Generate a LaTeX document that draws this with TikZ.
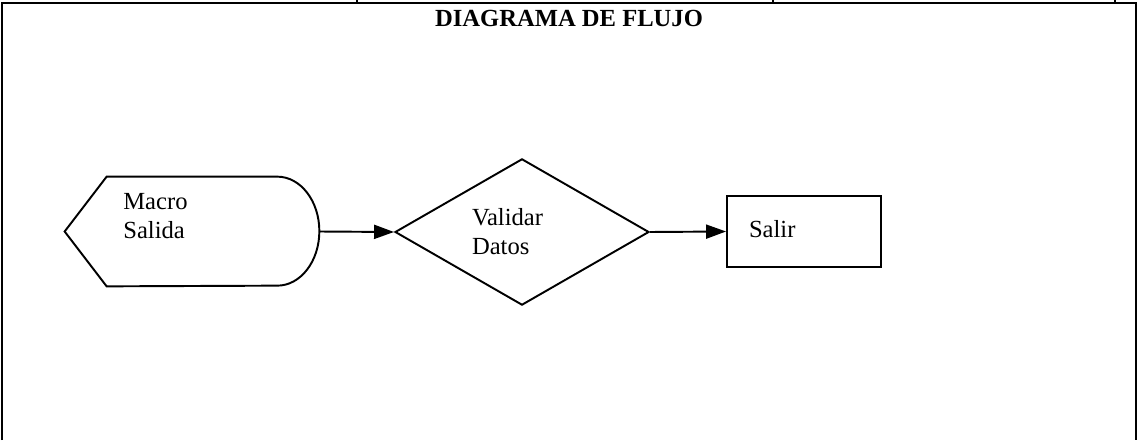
\documentclass[tikz,border=0pt]{standalone}
\usepackage{fontspec}
\setmainfont{Liberation Serif}
\usetikzlibrary{arrows.meta}
\usetikzlibrary{shapes.geometric}

\begin{document}
\begin{tikzpicture}[>={Triangle[length=0.4cm,width=0.28cm]},
	txt/.style={font=\fontsize{14}{16.5}\selectfont, align=left, inner sep=0},
	linea/.style={line width=1.1pt}]
	\useasboundingbox (0,0) rectangle (22.78,8.8);
	% marco
	\draw[line width=0.6pt] (0.04,0) -- (0.04,8.74) -- (22.72,8.74) -- (22.72,0);
	\draw[line width=0.6pt] (7.14,8.74) -- (7.14,8.8);
	\draw[line width=0.6pt] (15.46,8.74) -- (15.46,8.8);
	\draw[line width=0.6pt] (22.30,8.74) -- (22.30,8.8);
	\node[font=\fontsize{14}{16}\selectfont\bfseries, anchor=base] (titulo) at (11.38,8.27) {DIAGRAMA DE FLUJO};
	% macro salida
	\node[minimum width=5.08cm, minimum height=2.18cm, inner sep=0] (salida) at (3.84,4.17) {};
	\draw[linea] (salida.west) -- ([xshift=0.84cm]salida.north west)
		-- ([xshift=-0.84cm]salida.north east)
		arc[start angle=90, end angle=-90, x radius=0.84cm, y radius=1.09cm]
		-- ([xshift=0.84cm]salida.south west) -- cycle;
	\node[txt, anchor=north west] (salidatxt) at (2.46,4.94) {Macro\\Salida};
	% validar
	\node[diamond, draw, linea, txt, text width=2cm, minimum width=5.08cm,
		minimum height=2.92cm] (validar) at (10.44,4.16) {Validar\\Datos};
	% salir
	\node[draw, linea, txt, text width=2.2cm, inner xsep=0.44cm, text depth=0.12cm,
		minimum height=1.42cm] (salir) at (16.08,4.17) {Salir};
	\draw[linea,->] (salida.east) -- (validar.west);
	\draw[linea,->] (validar.east) -- (salir.west);
\end{tikzpicture}
\end{document}
